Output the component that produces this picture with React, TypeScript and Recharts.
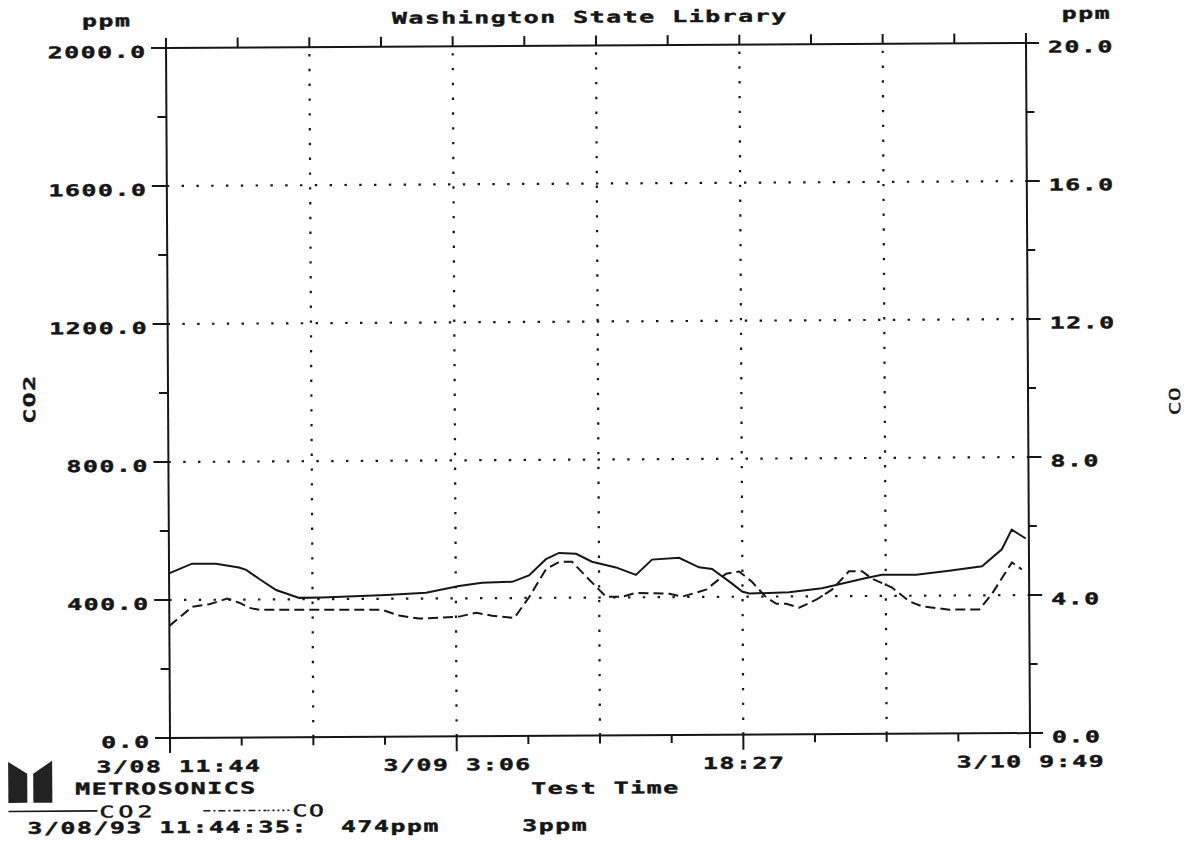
import { ComposedChart, Line, XAxis, YAxis, ReferenceLine } from "recharts";

// minutes from 3/08 11:44 to 3/10 9:49
const SPAN_MIN = 2765;
const TIME_TICKS = Array.from({ length: 13 }, (_, i) => (SPAN_MIN * i) / 12);
const TIME_LABELS = [
  "3/08 11:44", "", "", "", "3/09 3:06", "", "", "", "18:27", "", "", "", "3/10 9:49",
];
const TIME_GRID = TIME_TICKS.filter((_, i) => i > 0 && i < 12 && i % 2 === 0);

const CO2_TICKS = [0, 200, 400, 600, 800, 1000, 1200, 1400, 1600, 1800, 2000];
const CO2_LABELED = [0, 400, 800, 1200, 1600, 2000];
const CO_TICKS = [0, 2, 4, 6, 8, 10, 12, 14, 16, 18, 20];
const CO_LABELED = [0, 4, 8, 12, 16, 20];
const PPM_GRID = [400, 800, 1200, 1600];

const CO2_MIN = [
  0, 74, 151, 225, 248, 289, 344, 418, 492, 698, 826, 932, 1006, 1103, 1157, 1212, 1254, 1309, 1360,
  1437, 1501, 1553, 1640, 1704, 1746, 1810, 1842, 1865, 1993, 2099, 2241, 2292, 2402, 2508, 2614,
  2678, 2710, 2755,
];
const CO2_PPM = [
  477, 505, 504, 493, 486, 460, 427, 404, 405, 411, 417, 436, 445, 447, 465, 512, 530, 527, 504,
  487, 465, 509, 514, 486, 481, 438, 415, 409, 412, 423, 452, 461, 461, 472, 484, 533, 590, 564,
];

const CO_MIN = [
  0, 74, 129, 186, 225, 257, 289, 685, 739, 804, 932, 987, 1038, 1109, 1157, 1212, 1254, 1296, 1341,
  1382, 1405, 1456, 1501, 1608, 1649, 1726, 1791, 1833, 1874, 1919, 1952, 1984, 2025, 2080, 2131,
  2186, 2228, 2260, 2305, 2324, 2379, 2421, 2508, 2604, 2646, 2710, 2742,
];
const CO_PPM = [
  3.25, 3.8, 3.87, 4.03, 3.91, 3.76, 3.7, 3.68, 3.51, 3.42, 3.47, 3.58, 3.49, 3.42, 4.02, 4.83,
  5.04, 5.04, 4.61, 4.23, 4.02, 4.02, 4.13, 4.1, 4.01, 4.21, 4.67, 4.73, 4.43, 3.98, 3.79, 3.79,
  3.67, 3.9, 4.19, 4.72, 4.72, 4.5, 4.32, 4.24, 3.84, 3.69, 3.59, 3.59, 4.05, 4.95, 4.74,
];

const co2Data = CO2_MIN.map((t, i) => ({ t, v: CO2_PPM[i] }));
const coData = CO_MIN.map((t, i) => ({ t, v: CO_PPM[i] }));

const INK = "#161616";
const FONT = "'DejaVu Sans Mono', monospace";
const SX = 1.55;

// wide bitmap-like printer font
function Mono({ x, y, text, anchor = "start", size = 16, adv = 16.5, bold = true, rot = 0, weight = 0.45 }: any) {
  const ls = adv / SX - 0.602 * size;
  const dx = anchor === "end" ? ls : anchor === "middle" ? ls / 2 : 0;
  return (
    <text
      transform={`translate(${x},${y}) rotate(${rot}) scale(${SX},1)`}
      x={dx}
      y={0}
      textAnchor={anchor}
      fontFamily={FONT}
      fontWeight={bold ? 700 : 400}
      fontSize={size}
      letterSpacing={ls}
      fill={INK}
      stroke={INK}
      strokeWidth={weight}
      style={{ whiteSpace: "pre" }}
    >
      {text}
    </text>
  );
}

function BottomTick({ x, y, payload }: any) {
  const i = TIME_TICKS.indexOf(payload.value);
  const label = TIME_LABELS[i];
  return (
    <g>
      <line x1={x} x2={x} y1={y} y2={y + (label ? 15 : 8)} stroke={INK} strokeWidth={2} />
      {label ? <Mono x={x + (i === 0 ? 8 : 0)} y={y + 34} text={label} anchor="middle" /> : null}
    </g>
  );
}

function TopTick({ x, y }: any) {
  return <line x1={x} x2={x} y1={y - 10} y2={y} stroke={INK} strokeWidth={2} />;
}

function LeftTick({ x, y, payload }: any) {
  const major = CO2_LABELED.includes(payload.value);
  return (
    <g>
      <line x1={x - (major ? 15 : 9)} x2={x} y1={y} y2={y} stroke={INK} strokeWidth={2} />
      {major ? <Mono x={x - 21} y={y + 9.5} text={payload.value.toFixed(1)} anchor="end" /> : null}
    </g>
  );
}

function RightTick({ x, y, payload }: any) {
  const major = CO_LABELED.includes(payload.value);
  return (
    <g>
      <line x1={x} x2={x + (major ? 13 : 8)} y1={y} y2={y} stroke={INK} strokeWidth={2} />
      {major ? <Mono x={x + 22} y={y + 9.5} text={payload.value.toFixed(1)} /> : null}
    </g>
  );
}

const gridDots = { stroke: INK, strokeWidth: 2.2, strokeDasharray: "2.4 12.4" };

function Overlay() {
  return (
    <svg
      width={1191}
      height={846}
      style={{ position: "absolute", left: 0, top: 0, pointerEvents: "none" }}
    >
      <Mono x={396} y={25} text="Washington State Library" />
      <Mono x={86} y={26} text="ppm" />
      <Mono x={1066} y={24} text="ppm" />
      <Mono x={37} y={399} text="CO2" anchor="middle" rot={-90} />
      <Mono x={1182} y={407} text="CO" anchor="middle" rot={-90} size={15} adv={14} bold={false} weight={0.3} />
      <Mono x={531} y={796} text="Test Time" />
      {/* logo */}
      <polygon points="8,761 27,773 27,802 8,802" fill="#222" />
      <polygon points="33,773 52,760 52,802 33,802" fill="#222" />
      <Mono x={75} y={794} text="METROSONICS" />
      <line x1={8} x2={97} y1={810.5} y2={810.5} stroke={INK} strokeWidth={1.6} />
      <Mono x={99} y={817} text="CO2" size={16} adv={19} bold={false} weight={0.5} />
      <line x1={203} x2={266} y1={811} y2={811} stroke={INK} strokeWidth={1.6} strokeDasharray="7 3 2 3" />
      <line x1={267} x2={290} y1={811} y2={811} stroke={INK} strokeWidth={1.6} strokeDasharray="2 3" />
      <Mono x={292} y={817} text="CO" size={16} adv={16.5} bold={false} weight={0.5} />
      <Mono x={27} y={833} text="3/08/93 11:44:35:  474ppm     3ppm" />
    </svg>
  );
}

export default function App() {
  return (
    <div
      style={{
        position: "fixed",
        left: 0,
        top: 0,
        width: 1191,
        height: 846,
        overflow: "hidden",
        background: "#fff",
      }}
    >
      <div
        style={{
          position: "relative",
          width: 1191,
          height: 846,
          transform: "rotate(-0.33deg)",
          transformOrigin: "170px 738px",
        }}
      >
        <ComposedChart width={1191} height={846} margin={{ top: 0, right: 0, bottom: 0, left: 0 }}>
          <XAxis
            xAxisId="b"
            type="number"
            dataKey="t"
            domain={[0, SPAN_MIN]}
            ticks={TIME_TICKS}
            interval={0}
            height={108}
            tickSize={0}
            tickMargin={0}
            tickLine={false}
            tick={<BottomTick />}
            axisLine={{ stroke: INK, strokeWidth: 2 }}
            allowDataOverflow
          />
          <XAxis
            xAxisId="t"
            orientation="top"
            type="number"
            dataKey="t"
            domain={[0, SPAN_MIN]}
            ticks={TIME_TICKS}
            interval={0}
            height={48}
            tickSize={0}
            tickMargin={0}
            tickLine={false}
            tick={<TopTick />}
            axisLine={{ stroke: INK, strokeWidth: 2 }}
            allowDataOverflow
          />
          <YAxis
            yAxisId="l"
            domain={[0, 2000]}
            ticks={CO2_TICKS}
            interval={0}
            width={170}
            tickSize={0}
            tickMargin={0}
            tickLine={false}
            tick={<LeftTick />}
            axisLine={{ stroke: INK, strokeWidth: 2 }}
            allowDataOverflow
          />
          <YAxis
            yAxisId="r"
            orientation="right"
            domain={[0, 20]}
            ticks={CO_TICKS}
            interval={0}
            width={161}
            tickSize={0}
            tickMargin={0}
            tickLine={false}
            tick={<RightTick />}
            axisLine={{ stroke: INK, strokeWidth: 2 }}
            allowDataOverflow
          />
          {PPM_GRID.map((v) => (
            <ReferenceLine key={"h" + v} xAxisId="b" yAxisId="l" y={v} {...gridDots} />
          ))}
          {TIME_GRID.map((v) => (
            <ReferenceLine key={"v" + v} xAxisId="b" yAxisId="l" x={v} {...gridDots} />
          ))}
          <Line
            xAxisId="b"
            yAxisId="l"
            data={co2Data}
            dataKey="v"
            type="linear"
            stroke={INK}
            strokeWidth={2}
            dot={false}
            isAnimationActive={false}
          />
          <Line
            xAxisId="b"
            yAxisId="r"
            data={coData}
            dataKey="v"
            type="linear"
            stroke={INK}
            strokeWidth={2}
            strokeDasharray="10 5"
            dot={false}
            isAnimationActive={false}
          />
        </ComposedChart>
        <Overlay />
      </div>
    </div>
  );
}
